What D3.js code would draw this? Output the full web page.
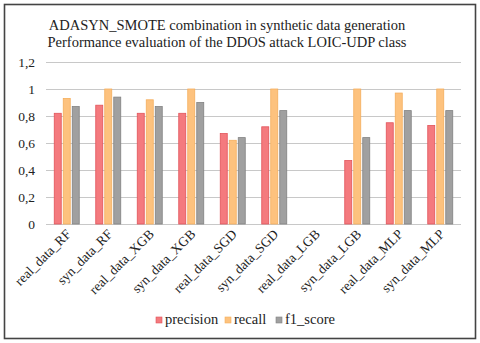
<!DOCTYPE html>
<html>
<head>
<meta charset="utf-8">
<script src="https://cdn.jsdelivr.net/npm/d3@7"></script>
<style>
  body { margin: 0; background: #fff; }
  text { font-family: 'Liberation Serif', serif; }
</style>
</head>
<body>
<svg id="chart" width="480" height="343"></svg>
<script>
// Chart data
const categories = ['real_data_RF', 'syn_data_RF', 'real_data_XGB', 'syn_data_XGB', 'real_data_SGD',
  'syn_data_SGD', 'real_data_LGB', 'syn_data_LGB', 'real_data_MLP', 'syn_data_MLP'];
const seriesNames = ['precision', 'recall', 'f1_score'];
const precision = [0.82, 0.88, 0.82, 0.82, 0.67, 0.72, 0, 0.47, 0.75, 0.73];
const recall = [0.93, 1.0, 0.92, 1.0, 0.62, 1.0, 0, 1.0, 0.97, 1.0];
const f1Score = [0.87, 0.94, 0.87, 0.90, 0.64, 0.84, 0, 0.64, 0.84, 0.84];
const yTicks = [0, 0.2, 0.4, 0.6, 0.8, 1, 1.2];
const titleLines = ['ADASYN_SMOTE  combination in synthetic data generation',
  'Performance evaluation of the DDOS attack LOIC-UDP class'];

const FONT = 'Liberation Serif';
const fills = ['#f47a7e', '#fdc27e', '#a0a0a0'];
const strokes = ['#e2545a', '#f5ae5c', '#828282'];
const values = [precision, recall, f1Score];

const svg = d3.select('#chart');

// outer frame
svg.append('rect')
  .attr('x', 4.5).attr('y', 4.5).attr('width', 471).attr('height', 334)
  .attr('fill', '#fff').attr('stroke', '#444').attr('stroke-width', 1.6);

const x = d3.scaleBand().domain(categories).range([46, 461]);
const y = d3.scaleLinear().domain([0, 1.2]).range([224, 62]);

// title
svg.append('g').selectAll('text')
  .data(titleLines).join('text')
  .attr('x', 227).attr('y', (d, i) => 30 + i * 17)
  .attr('text-anchor', 'middle')
  .attr('font-family', FONT)
  .attr('font-size', 14.5).attr('fill', '#222')
  .text(d => d);

// gridlines
svg.append('g').selectAll('line')
  .data(yTicks).join('line')
  .attr('x1', 46).attr('x2', 461)
  .attr('y1', d => Math.round(y(d)) + 0.5).attr('y2', d => Math.round(y(d)) + 0.5)
  .attr('stroke', '#c8c8c8').attr('stroke-width', 1.2);

// y axis labels
svg.append('g').selectAll('text')
  .data(yTicks).join('text')
  .attr('x', 35).attr('y', d => y(d) + 4.5)
  .attr('text-anchor', 'end')
  .attr('font-family', FONT)
  .attr('font-size', 13.5).attr('fill', '#222')
  .text(d => d3.format('~g')(d).replace('.', ','));

// bars
const barW = 7, gap = 2;
seriesNames.forEach((s, si) => {
  svg.append('g').selectAll('rect')
    .data(values[si]).join('rect')
    .attr('x', (d, i) => x(categories[i]) + x.bandwidth() / 2 - (barW * 1.5 + gap) + si * (barW + gap))
    .attr('y', d => y(d))
    .attr('width', barW)
    .attr('height', d => y(0) - y(d))
    .attr('fill', fills[si])
    .attr('stroke', strokes[si]).attr('stroke-width', 0.8)
    .attr('display', d => d > 0 ? null : 'none');
});

// category labels
svg.append('g').selectAll('text')
  .data(categories).join('text')
  .attr('transform', d => `translate(${x(d) + x.bandwidth() / 2 + 5},${235}) rotate(-45)`)
  .attr('text-anchor', 'end')
  .attr('font-family', FONT)
  .attr('font-size', 13.5).attr('fill', '#222')
  .text(d => d);

// legend
const legendX = [156, 225, 276];
const legend = svg.append('g').selectAll('g')
  .data(seriesNames).join('g')
  .attr('transform', (d, i) => `translate(${legendX[i]},324)`);
legend.append('rect')
  .attr('x', 0).attr('y', -7).attr('width', 6).attr('height', 6)
  .attr('fill', (d, i) => fills[i]).attr('stroke', (d, i) => strokes[i]).attr('stroke-width', 0.6);
legend.append('text')
  .attr('x', 9).attr('y', 0)
  .attr('font-family', FONT)
  .attr('font-size', 14.5).attr('fill', '#222')
  .text(d => d);
</script>
</body>
</html>
